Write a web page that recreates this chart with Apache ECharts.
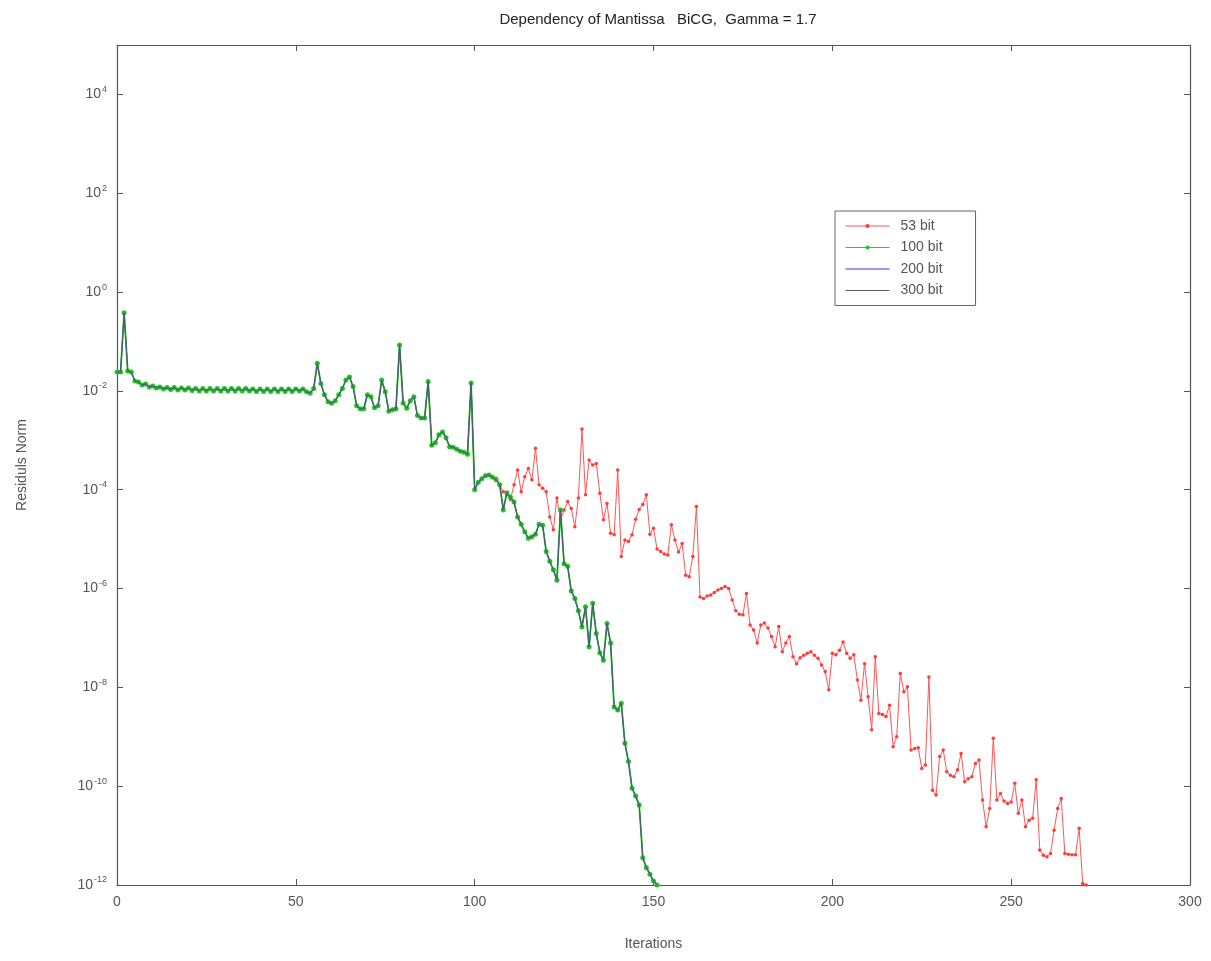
<!DOCTYPE html>
<html>
<head>
<meta charset="utf-8">
<script src="https://cdn.jsdelivr.net/npm/echarts@6/dist/echarts.min.js"></script>
<style>
html,body{margin:0;padding:0;background:#fff;}
#chart{width:1211px;height:961px;}
</style>
</head>
<body>
<div id="chart"></div>
<script>
// log10 of the residual norm, one value per iteration (starting at iteration 0)
const seriesNames = ['53 bit', '100 bit', '200 bit', '300 bit'];
const xTicks = [0, 50, 100, 150, 200, 250, 300];
const yTickExponents = [-12, -10, -8, -6, -4, -2, 0, 2, 4];

const log10Res100 = [
  -1.62,-1.62,-0.42,-1.60,-1.62,-1.80,-1.82,-1.88,-1.86,-1.92,
  -1.90,-1.94,-1.92,-1.96,-1.93,-1.97,-1.93,-1.98,-1.94,-1.98,
  -1.94,-1.99,-1.95,-2.00,-1.95,-2.00,-1.95,-2.00,-1.95,-2.00,
  -1.95,-2.00,-1.95,-2.00,-1.95,-2.00,-1.95,-2.00,-1.96,-2.01,
  -1.96,-2.01,-1.96,-2.01,-1.96,-2.01,-1.96,-2.01,-1.96,-2.01,
  -1.96,-2.00,-1.96,-2.02,-2.05,-1.95,-1.44,-1.85,-2.08,-2.22,
  -2.25,-2.20,-2.08,-1.95,-1.78,-1.72,-1.91,-2.30,-2.36,-2.36,
  -2.08,-2.12,-2.34,-2.30,-1.78,-2.02,-2.41,-2.38,-2.36,-1.07,
  -2.25,-2.35,-2.20,-2.12,-2.50,-2.55,-2.55,-1.81,-3.10,-3.05,
  -2.89,-2.83,-2.95,-3.13,-3.14,-3.18,-3.22,-3.24,-3.28,-1.84,
  -4.00,-3.85,-3.78,-3.72,-3.70,-3.75,-3.80,-3.90,-4.41,-4.06,
  -4.15,-4.25,-4.55,-4.70,-4.85,-4.98,-4.95,-4.90,-4.70,-4.72,
  -5.25,-5.45,-5.62,-5.83,-4.41,-5.50,-5.55,-6.05,-6.20,-6.45,
  -6.78,-6.37,-7.18,-6.30,-6.91,-7.30,-7.45,-6.71,-7.10,-8.40,
  -8.46,-8.32,-9.13,-9.50,-10.04,-10.20,-10.38,-11.45,-11.65,-11.78,
  -11.92,-12.00
];

// 200 bit and 300 bit runs coincide with the 100 bit run
const log10Res200 = log10Res100.slice();
const log10Res300 = log10Res100.slice();

// 53 bit run: identical to the others until it diverges at iteration 106
const res53DivergeAt = 106;
const log10Res53Tail = [
  -3.77,-3.90,-4.04,-4.10,-4.20,-3.90,-3.60,-4.04,-3.74,-3.57,
  -3.80,-3.16,-3.90,-3.97,-4.04,-4.55,-4.81,-4.17,-4.61,-4.41,
  -4.24,-4.38,-4.75,-4.17,-2.77,-4.10,-3.40,-3.50,-3.47,-4.07,
  -4.61,-4.28,-4.88,-4.91,-3.60,-5.35,-5.02,-5.05,-4.91,-4.60,
  -4.40,-4.30,-4.10,-4.90,-4.78,-5.20,-5.25,-5.30,-5.32,-4.71,
  -5.02,-5.26,-5.09,-5.73,-5.76,-5.35,-4.34,-6.17,-6.20,-6.15,
  -6.13,-6.08,-6.03,-6.00,-5.96,-6.00,-6.23,-6.45,-6.52,-6.53,
  -6.10,-6.74,-6.84,-7.10,-6.74,-6.70,-6.80,-6.97,-7.18,-6.77,
  -7.28,-7.10,-6.97,-7.38,-7.52,-7.40,-7.35,-7.31,-7.28,-7.35,
  -7.41,-7.55,-7.68,-8.05,-7.31,-7.34,-7.25,-7.08,-7.31,-7.41,
  -7.34,-7.85,-8.26,-7.52,-8.19,-8.86,-7.38,-8.53,-8.55,-8.59,
  -8.36,-9.20,-9.00,-7.72,-8.09,-7.99,-9.27,-9.24,-9.22,-9.64,
  -9.57,-7.79,-10.08,-10.18,-9.40,-9.27,-9.71,-9.78,-9.81,-9.67,
  -9.34,-9.91,-9.85,-9.81,-9.54,-9.47,-10.28,-10.82,-10.45,-9.03,
  -10.28,-10.15,-10.30,-10.35,-10.32,-9.94,-10.55,-10.28,-10.82,-10.69,
  -10.65,-9.87,-11.29,-11.40,-11.43,-11.36,-10.89,-10.45,-10.25,-11.36,
  -11.38,-11.39,-11.39,-10.85,-11.97,-12.00
];
const log10Res53 = log10Res100.slice(0, res53DivergeAt).concat(log10Res53Tail);

const toPairs = arr => arr.map((v, i) => [i, v]);

const FONT = '"Liberation Sans", Arial, sans-serif';
const AXIS_COLOR = '#555';
const chart = echarts.init(document.getElementById('chart'), null, {renderer: 'canvas'});

const yLabel = {
  color: AXIS_COLOR,
  fontFamily: FONT,
  margin: 10,
  showMaxLabel: false,
  formatter: v => '{b|10}{s|' + v + '}',
  rich: {
    b: {fontSize: 14, fontFamily: FONT, color: AXIS_COLOR},
    s: {fontSize: 9, fontFamily: FONT, color: AXIS_COLOR, padding: [0, 0, 10, 1]}
  }
};

const frameAxisLine = {show: true, onZero: false, lineStyle: {color: AXIS_COLOR, width: 1.2}};
const frameTick = {show: true, inside: true, length: 6, lineStyle: {color: AXIS_COLOR}};

const option = {
  backgroundColor: '#fff',
  animation: false,
  title: {
    text: 'Dependency of Mantissa   BiCG,  Gamma = 1.7',
    left: 653, top: 7, textAlign: 'center',
    textStyle: {fontFamily: FONT, fontSize: 15, fontWeight: 'normal', color: '#222'}
  },
  legend: {
    orient: 'vertical',
    left: 835, top: 211,
    padding: [8, 33, 8, 10],
    itemGap: 7.5,
    itemWidth: 44, itemHeight: 5,
    borderColor: '#666', borderWidth: 1,
    borderRadius: 0,
    backgroundColor: '#fff',
    lineStyle: {width: 1},
    textStyle: {fontFamily: FONT, fontSize: 14, color: '#555', padding: [0, 0, 0, 6]},
    data: [
      {name: seriesNames[0]},
      {name: seriesNames[1]},
      {name: seriesNames[2], itemStyle: {opacity: 0}},
      {name: seriesNames[3], itemStyle: {opacity: 0}}
    ]
  },
  grid: {left: 117, right: 21, top: 45, bottom: 76, containLabel: false},
  xAxis: [{
    type: 'value', min: 0, max: 300, interval: 50,
    name: 'Iterations', nameLocation: 'middle', nameGap: 52,
    nameTextStyle: {fontFamily: FONT, fontSize: 14, color: AXIS_COLOR},
    axisLine: frameAxisLine,
    axisTick: frameTick,
    axisLabel: {fontFamily: FONT, fontSize: 14, color: AXIS_COLOR, margin: 10},
    splitLine: {show: false}
  }, {
    type: 'value', min: 0, max: 300, interval: 50, position: 'top',
    axisLine: frameAxisLine,
    axisTick: frameTick,
    axisLabel: {show: false}, splitLine: {show: false}
  }],
  yAxis: [{
    type: 'value', min: -12, max: 5, interval: 2,
    name: 'Residuls Norm', nameLocation: 'middle', nameGap: 88, nameRotate: 90,
    nameTextStyle: {fontFamily: FONT, fontSize: 14, color: AXIS_COLOR},
    axisLine: frameAxisLine,
    axisTick: frameTick,
    axisLabel: yLabel,
    splitLine: {show: false}
  }, {
    type: 'value', min: -12, max: 5, interval: 2, position: 'right',
    axisLine: frameAxisLine,
    axisTick: frameTick,
    axisLabel: {show: false}, splitLine: {show: false}
  }],
  series: [{
    name: seriesNames[0], type: 'line', data: toPairs(log10Res53),
    symbol: 'circle', symbolSize: 3.5, showSymbol: true,
    lineStyle: {color: '#ff5555', width: 1},
    itemStyle: {color: '#ff3b3b'},
    z: 2
  }, {
    name: seriesNames[1], type: 'line', data: toPairs(log10Res100),
    symbol: 'circle', symbolSize: 5, showSymbol: true,
    lineStyle: {color: '#22cc22', width: 1.8},
    itemStyle: {color: '#22c422'},
    z: 3
  }, {
    name: seriesNames[2], type: 'line', data: toPairs(log10Res200),
    symbol: 'none', showSymbol: false,
    lineStyle: {color: '#3333ee', width: 0.7},
    itemStyle: {color: '#3333ee'},
    z: 4
  }, {
    name: seriesNames[3], type: 'line', data: toPairs(log10Res300),
    symbol: 'none', showSymbol: false,
    lineStyle: {color: '#5a5a5a', width: 0.8},
    itemStyle: {color: '#333'},
    z: 5
  }]
};
chart.setOption(option);
</script>
</body>
</html>
